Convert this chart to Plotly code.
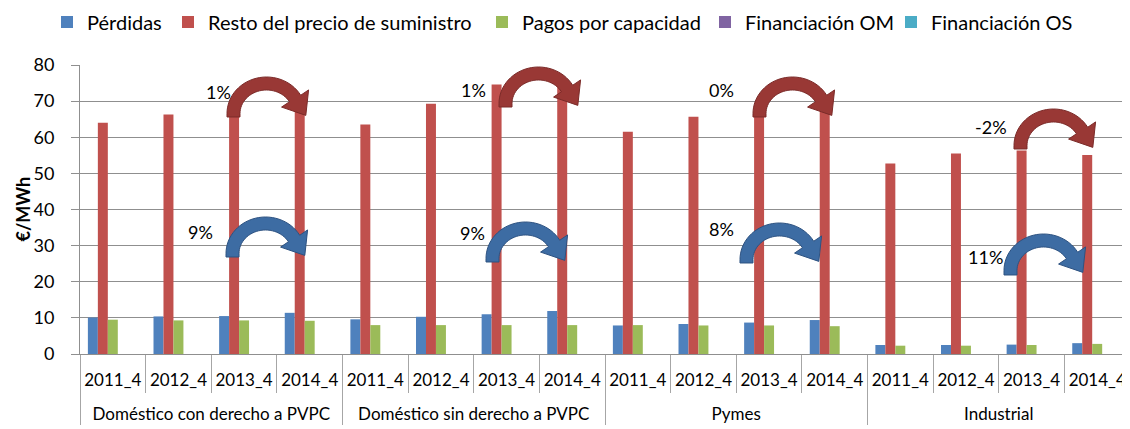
import plotly.graph_objects as go
import math

# ---------------- data ----------------
groups = ["Doméstico con derecho a PVPC", "Doméstico sin derecho a PVPC", "Pymes", "Industrial"]
years = ["2011_4", "2012_4", "2013_4", "2014_4"]

perdidas = [10.1, 10.4, 10.5, 11.4,
            9.6, 10.3, 11.0, 11.9,
            7.9, 8.3, 8.7, 9.4,
            2.5, 2.5, 2.6, 3.0]
resto = [64.0, 66.3, 67.1, 68.0,
         63.5, 69.3, 74.6, 75.4,
         61.5, 65.7, 67.0, 67.1,
         52.7, 55.5, 56.3, 55.1]
pagos = [9.5, 9.3, 9.3, 9.2,
         8.0, 8.0, 8.0, 8.0,
         8.0, 7.9, 7.9, 7.7,
         2.3, 2.3, 2.5, 2.8]
fin_om = [0] * 16
fin_os = [0] * 16

series_names = ["Pérdidas", "Resto del precio de suministro", "Pagos por capacidad",
                "Financiación OM", "Financiación OS"]
series_values = [perdidas, resto, pagos, fin_om, fin_os]
series_colors = ["#4F81BD", "#C0504D", "#9BBB59", "#8064A2", "#4BACC6"]

# change labels 2013 -> 2014 (resto / pérdidas)
resto_change = ["1%", "1%", "0%", "-2%"]
perdidas_change = ["9%", "9%", "8%", "11%"]
y_title = "€/MWh"

# ---------------- layout constants ----------------
OFF = 8                      # page body margin of the browser
W, H = 1130 - OFF, 429 - OFF
ML, MR, MT, MB = 80 - OFF, 0, 65 - OFF, 75
PW = W - ML - MR
PH = H - MT - MB
FONT = "Lato"

x_outer = [g for g in groups for _ in years]
# trailing blank line makes room between the year row and the group row
x_inner = [y + "<br> " for _ in groups for y in years]

legend_ids = ["legend", "legend2", "legend3", "legend4", "legend5"]

fig = go.Figure()
for name, vals, col, lg in zip(series_names, series_values, series_colors, legend_ids):
    fig.add_trace(go.Bar(x=[x_outer, x_inner], y=vals, name=name, legend=lg,
                         marker=dict(color=col, line=dict(width=0))))


def to_paper(px, py):
    # px, py in reference-image pixels
    return (px - 80) / PW, (354 - py) / PH


def arrow_path(L, T, B, rx=33.0, ry=30.0, t=13.0, end_deg=30.0, hl=20.0, hw=16.0):
    cx = L + t / 2 + rx
    cy = T + t / 2 + ry
    pts = [(L, B), (L, cy)]
    n = 30
    a0, a1 = math.radians(180), math.radians(end_deg)
    for i in range(n + 1):
        a = a0 + (a1 - a0) * i / n
        pts.append((cx + (rx + t / 2) * math.cos(a), cy - (ry + t / 2) * math.sin(a)))
    a = a1
    mx, my = cx + rx * math.cos(a), cy - ry * math.sin(a)
    dx, dy = rx * math.sin(a), ry * math.cos(a)
    dl = math.hypot(dx, dy)
    dx, dy = dx / dl, dy / dl
    nx, ny = ry * math.cos(a), -rx * math.sin(a)
    nl = math.hypot(nx, ny)
    nx, ny = nx / nl, ny / nl
    pts.append((mx + hw * nx, my + hw * ny))
    pts.append((mx + hl * dx, my + hl * dy))
    pts.append((mx - hw * nx, my - hw * ny))
    for i in range(n + 1):
        a = a1 + (a0 - a1) * i / n
        pts.append((cx + (rx - t / 2) * math.cos(a), cy - (ry - t / 2) * math.sin(a)))
    pts.append((L + t, B))
    s = ""
    for i, (px, py) in enumerate(pts):
        xp, yp = to_paper(px, py)
        s += ("M" if i == 0 else "L") + f"{xp:.5f},{yp:.5f} "
    return s + "Z"


# arrow placement (reference pixels): left, top, foot bottom
red_arrows = [(227, 77, 117), (499, 67, 107), (753, 77, 117), (1014, 109, 149)]
blue_arrows = [(226, 217, 257), (486, 222, 262), (740, 223, 263), (1004, 234, 275)]
red_label_pos = [(218, 92), (473, 90), (721, 90), (991, 127)]
blue_label_pos = [(200, 232), (472, 233), (721, 229), (985, 257)]
legend_square_x = [68, 189, 503, 726, 912]
y_title_x = 22

shapes = []
for (L, T, B) in red_arrows:
    shapes.append(dict(type="path", xref="paper", yref="paper", path=arrow_path(L, T, B),
                       fillcolor="#993835", line=dict(color="#7b2b29", width=1), layer="above"))
for (L, T, B) in blue_arrows:
    shapes.append(dict(type="path", xref="paper", yref="paper", path=arrow_path(L, T, B),
                       fillcolor="#3D6CA3", line=dict(color="#2d5281", width=1), layer="above"))

annotations = []
for txt, (px, py) in zip(resto_change + perdidas_change, red_label_pos + blue_label_pos):
    xp, yp = to_paper(px, py)
    annotations.append(dict(text=txt, x=xp, y=yp, xref="paper", yref="paper",
                            showarrow=False, xanchor="center", yanchor="middle",
                            font=dict(family=FONT, size=18, color="#000")))
# y axis title
annotations.append(dict(text=f"<b>{y_title}</b>", x=to_paper(y_title_x, 0)[0], y=0.5,
                        xref="paper", yref="paper", textangle=-90, showarrow=False,
                        xanchor="center", yanchor="middle",
                        font=dict(family=FONT, size=18, color="#000")))

legend_layout = {}
for lg, sx in zip(legend_ids, legend_square_x):
    legend_layout[lg] = dict(orientation="h", xref="container", yref="container",
                             x=(sx - 21 - OFF) / W, y=1 - (22 - OFF) / H,
                             xanchor="left", yanchor="middle",
                             font=dict(family=FONT, size=20, color="#000"),
                             itemwidth=30, bgcolor="rgba(0,0,0,0)")

fig.update_layout(
    width=W, height=H,
    margin=dict(l=ML, r=MR, t=MT, b=MB, pad=0, autoexpand=False),
    paper_bgcolor="white", plot_bgcolor="white",
    barmode="group", bargap=0.24, bargroupgap=0,
    font=dict(family=FONT, size=17, color="#000"),
    showlegend=True,
    shapes=shapes,
    annotations=annotations,
    **legend_layout,
)
fig.update_yaxes(range=[0, 80], dtick=10, showgrid=True, gridcolor="#8f8f8f", gridwidth=1,
                 showline=True, linecolor="#8f8f8f", linewidth=1,
                 ticks="outside", ticklen=8, tickcolor="#8f8f8f",
                 ticklabelstandoff=13, automargin=False,
                 tickfont=dict(family=FONT, size=18, color="#000"),
                 zeroline=False)
fig.update_xaxes(type="multicategory", showline=True, linecolor="#8f8f8f", linewidth=1,
                 ticks="outside", ticklen=38, tickcolor="#a6a6a6", tickangle=0,
                 ticklabelstandoff=11,
                 showdividers=True, dividercolor="#a6a6a6", dividerwidth=1,
                 automargin=False,
                 tickfont=dict(family=FONT, size=17, color="#000"))

fig.write_html("out.html")
